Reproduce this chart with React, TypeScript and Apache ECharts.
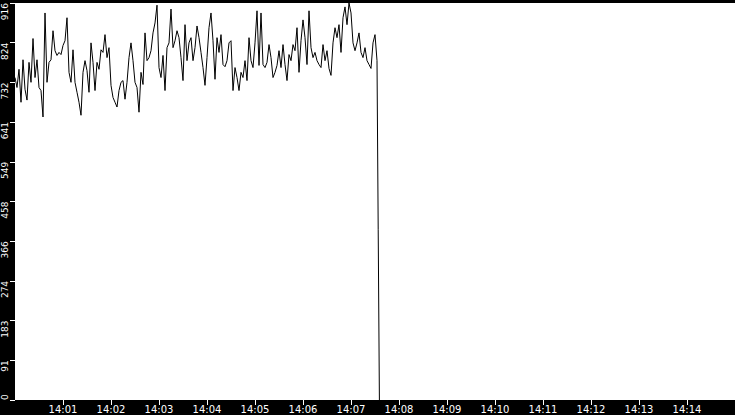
import React, { useEffect, useRef } from "react";
import * as echarts from "echarts";

// samples every 2.5 s starting at 14:00:00 (seconds since 14:00)
const startSec = 0;
const stepSec = 2.5;

const loadPart1 = [
  744, 721, 763, 687, 785, 717, 692, 779, 733, 834, 744, 785, 721, 714, 653,
  893, 733, 779, 785, 852, 806, 795, 802, 797, 818, 829, 882, 756, 733, 808,
  733, 710, 687, 657, 756, 783, 760, 710, 824, 779, 714, 779, 763, 808, 802,
];
const loadPart2 = [
  843, 790, 813, 726, 698, 687, 676, 714, 733, 737, 694, 733, 790, 824, 783,
  733, 721, 664, 756, 728, 847, 783, 790, 806, 847, 870, 911, 767, 744, 795,
  714, 813, 824, 902, 813, 829, 852, 836, 790, 737, 866, 783, 824, 836, 783,
];
const loadPart3 = [
  813, 863, 836, 802, 767, 726, 790, 859, 893, 829, 740, 836, 802, 843, 774,
  769, 783, 824, 829, 714, 767, 744, 714, 756, 744, 783, 737, 836, 783, 767,
  824, 898, 772, 893, 774, 767, 779, 820, 790, 744, 756, 772, 806, 767, 820,
];
const loadPart4 = [
  774, 737, 797, 783, 820, 806, 859, 756, 829, 877, 836, 774, 898, 813, 790,
  802, 783, 774, 767, 820, 783, 806, 765, 749, 824, 859, 836, 866, 802, 882,
  907, 866, 916, 893, 824, 806, 824, 847, 802, 790, 813, 783, 774, 765, 824,
  843, 783,
];
// last readings when the feed drops out: [seconds since 14:00, value]
const dropTail = [
  [454, 394],
  [455.5, 0],
];

const yTickLabels = ["0", "91", "183", "274", "366", "458", "549", "641", "732", "824", "916"];
const xTickLabels = [
  "14:00", "14:01", "14:02", "14:03", "14:04", "14:05", "14:06", "14:07",
  "14:08", "14:09", "14:10", "14:11", "14:12", "14:13", "14:14", "14:15",
];

const App = () => {
  const chartRef = useRef<HTMLDivElement>(null);

  useEffect(() => {
    if (!chartRef.current) return;
    document.body.style.margin = "0";
    const chart = echarts.init(chartRef.current, null, { renderer: "svg" });

    const values = [...loadPart1, ...loadPart2, ...loadPart3, ...loadPart4];
    const seriesData = values
      .map((v, i) => [startSec + i * stepSec, v])
      .concat(dropTail);

    chart.setOption({
      animation: false,
      backgroundColor: "#000",
      grid: {
        left: 15,
        right: 0,
        top: 0,
        bottom: 15,
        show: true,
        backgroundColor: "#fff",
        borderWidth: 0,
      },
      xAxis: {
        type: "value",
        min: 0,
        max: 900,
        interval: 60,
        axisLine: { show: false },
        splitLine: { show: false },
        axisTick: { show: true, length: 5, lineStyle: { color: "#fff" } },
        axisLabel: {
          color: "#fff",
          fontFamily: "DejaVu Sans",
          fontSize: 10,
          margin: 4,
          showMinLabel: false,
          showMaxLabel: false,
          formatter: (v: number) => xTickLabels[Math.round(v / 60)],
        },
      },
      yAxis: {
        type: "value",
        min: 0,
        max: 916,
        interval: 91.6,
        axisLine: { show: false },
        splitLine: { show: false },
        axisTick: { show: true, length: 5, lineStyle: { color: "#fff" } },
        axisLabel: {
          color: "#fff",
          fontFamily: "DejaVu Sans",
          fontSize: 9,
          rotate: 90,
          align: "right",
          verticalAlign: "middle",
          alignMinLabel: "left",
          margin: 10,
          formatter: (v: number) => yTickLabels[Math.round(v / 91.6)],
        },
      },
      series: [
        {
          type: "line",
          data: seriesData,
          showSymbol: false,
          symbol: "none",
          lineStyle: { color: "#000", width: 1 },
        },
      ],
    });

    return () => {
      chart.dispose();
    };
  }, []);

  return (
    <div
      ref={chartRef}
      style={{ position: "absolute", left: 0, top: 0, width: 735, height: 415 }}
    />
  );
};

export default App;
